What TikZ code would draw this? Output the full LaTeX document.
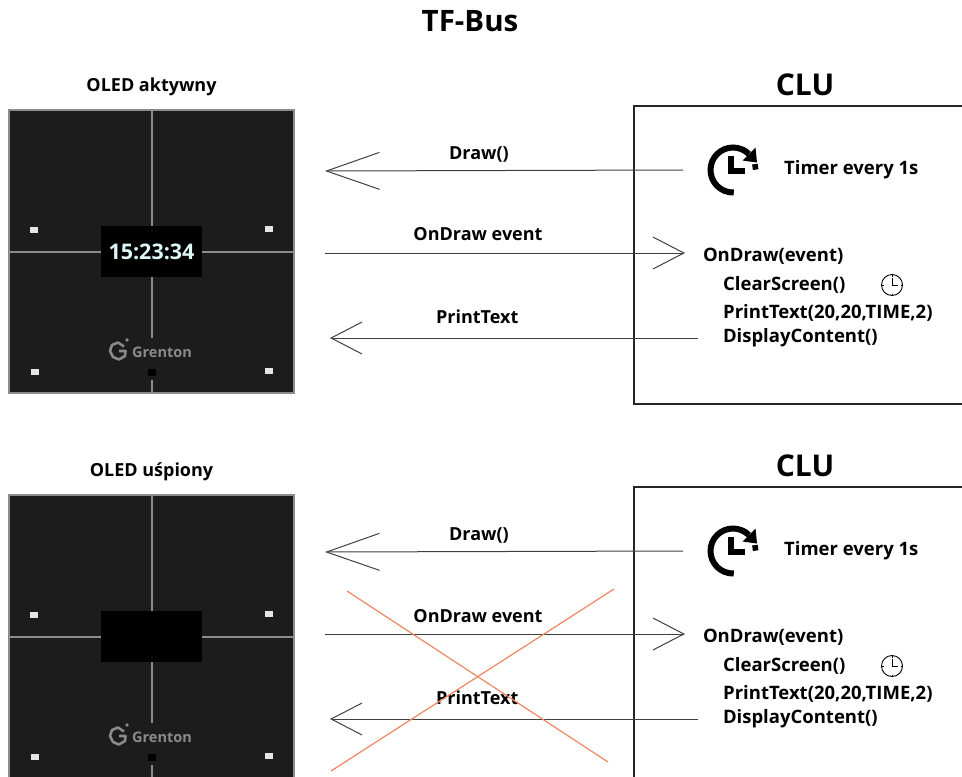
\documentclass[tikz,border=0pt]{standalone}
\usepackage{fontspec}
\setmainfont{Open Sans}
\usetikzlibrary{arrows.meta, positioning}

\definecolor{panelbg}{HTML}{1C1C1C}
\definecolor{panelrim}{HTML}{8C8C8C}
\definecolor{digits}{HTML}{DDF6F6}
\definecolor{brandgray}{HTML}{8A8A8A}
\definecolor{crossred}{HTML}{EE8662}

\begin{document}
\begin{tikzpicture}[x=1pt, y=-1pt,
    title/.style={font=\fontsize{29.5}{34}\selectfont\bfseries},
    heading/.style={font=\fontsize{18}{21}\selectfont\bfseries},
    clu/.style={font=\fontsize{30}{34}\selectfont\bfseries},
    msg/.style={font=\fontsize{18}{21}\selectfont\bfseries},
    code/.style={font=\fontsize{18.5}{22}\selectfont\bfseries, anchor=west, inner sep=0pt},
    panel/.style={draw=panelrim, line width=2pt, fill=panelbg, minimum width=285pt, minimum height=283pt, inner sep=0pt},
    screen/.style={fill=black, minimum width=101pt, minimum height=51pt, inner sep=0pt, text=digits, font=\fontsize{21.5}{25}\selectfont\bfseries},
    seam/.style={draw=panelrim, line width=2pt},
    led/.style={fill=black!10, minimum width=8pt, minimum height=6pt, inner sep=0pt},
    sensor/.style={fill=black, minimum width=8pt, minimum height=7pt, inner sep=0pt},
    brand/.style={text=brandgray, font=\fontsize{14.5}{17}\selectfont\bfseries, anchor=west, inner sep=0pt},
    sig/.style={draw=black!75, line width=1pt, -{Straight Barb[length=53pt, width=37pt]}},
    reply/.style={sig, -{Straight Barb[length=31pt, width=32pt]}},
    clubox/.style={draw=black!85, line width=1.5pt, minimum width=345pt, minimum height=298pt, anchor=north west, inner sep=0pt},
    cross/.style={draw=crossred, line width=1.2pt},
    timer/.pic={
        \begin{scope}[yscale=-1]
        \draw[line width=6pt] (45:22.5) arc[start angle=45, end angle=272, radius=22.5];
        \fill (22.5,22.5) -- (9.5,9.5) -- (24,7.5) -- cycle;
        \foreach \a in {-8,-33,-58}
            \fill[rotate=\a] (22.5,0) +(-2.8,-2.8) rectangle +(2.8,2.8);
        \draw[line width=6pt] (-2,14) -- (-2,-1) -- (12,-1);
        \end{scope}},
    clock/.pic={
        \begin{scope}[yscale=-1]
        \draw[line width=0.9pt] (0,0) circle (10.5pt);
        \draw[line width=0.9pt] (0,7.5) -- (0,0) -- (5.5,0);
        \foreach \a in {0,90,180,270}
            \draw[line width=0.9pt] (\a:8.5) -- (\a:10.5);
        \end{scope}}]

    \useasboundingbox (0,0) rectangle (962,777);

    \node[title] (bus) at (470,21) {TF-Bus};

    \foreach \row/\dy/\pdy/\state/\clock in {A/0/0/OLED aktywny/15:23:34, B/381/385/OLED uśpiony/{}} {
        % touch panel with its OLED window
        \begin{scope}[shift={(0,\pdy)}]
            \node[panel] (oled\row) at (151.5,251.5) {};
            \node[heading, above=10pt of oled\row] (state\row) {\state};
            \node[screen] (disp\row) at (oled\row) {\clock};
            \draw[seam] (oled\row.north) -- (disp\row.north);
            \draw[seam] (disp\row.south) -- (151.5,338);
            \draw[seam] (151.5,380) -- (oled\row.south);
            \draw[seam] (oled\row.west) -- (disp\row.west);
            \draw[seam] (disp\row.east) -- (oled\row.east);
            \foreach \lx/\ly in {34/230, 269/229, 35/372, 269/371}
                \node[led] at (\lx,\ly) {};
            \node[sensor] at (152,372) {};
            \node[brand] (brand\row) at (132,352) {Grenton};
            \draw[brandgray, line width=2.6pt, line join=round] (124,346.5) -- (118,342.5) -- (112,345) -- (110,351)
                -- (113,357) -- (119,359.5) -- (125,356) -- (125.5,351) -- (119,351);
            \fill[brandgray] (127,340) circle (1.9pt);
        \end{scope}

        % CLU side
        \begin{scope}[shift={(0,\dy)}]
            \node[clu] (cluname\row) at (805,85) {CLU};
            \node[clubox] (clu\row) at (633,105) {};

            \node[minimum size=52pt, inner sep=0pt, outer xsep=24pt] (timer\row) at (733,170) {};
            \pic at (timer\row) {timer};
            \node[code, right=1pt of timer\row] (every\row) {Timer every 1s};

            \node[code, outer xsep=18pt] (ondraw\row) at (685,256) {OnDraw(event)};
            \node[code] (clear\row) at (723,285) {ClearScreen()};
            \pic at (892,285) {clock};
            \node[code] (print\row) at (723,313) {PrintText(20,20,TIME,2)};
            \node[code, outer xsep=25pt] (show\row) at (698,338) {DisplayContent()};

            \coordinate (drawtip\row) at (325,171);
            \coordinate (eventsrc\row) at (325,253);
            \coordinate (printtip\row) at (330,338);

            \draw[sig] (timer\row.west) -- node[msg, pos=0.57, above=4pt] {Draw()} (drawtip\row);
            \draw[reply] (eventsrc\row) -- node[msg, pos=0.425, above=8pt] {OnDraw event} (ondraw\row.west |- eventsrc\row);
            \draw[reply] (show\row.west) -- node[msg, pos=0.6, above=10pt] {PrintText} (printtip\row);
        \end{scope}
    }

    % no refresh while the display sleeps
    \draw[cross] (347,591) -- (608,762);
    \draw[cross] (614,589) -- (331,771);
\end{tikzpicture}
\end{document}
